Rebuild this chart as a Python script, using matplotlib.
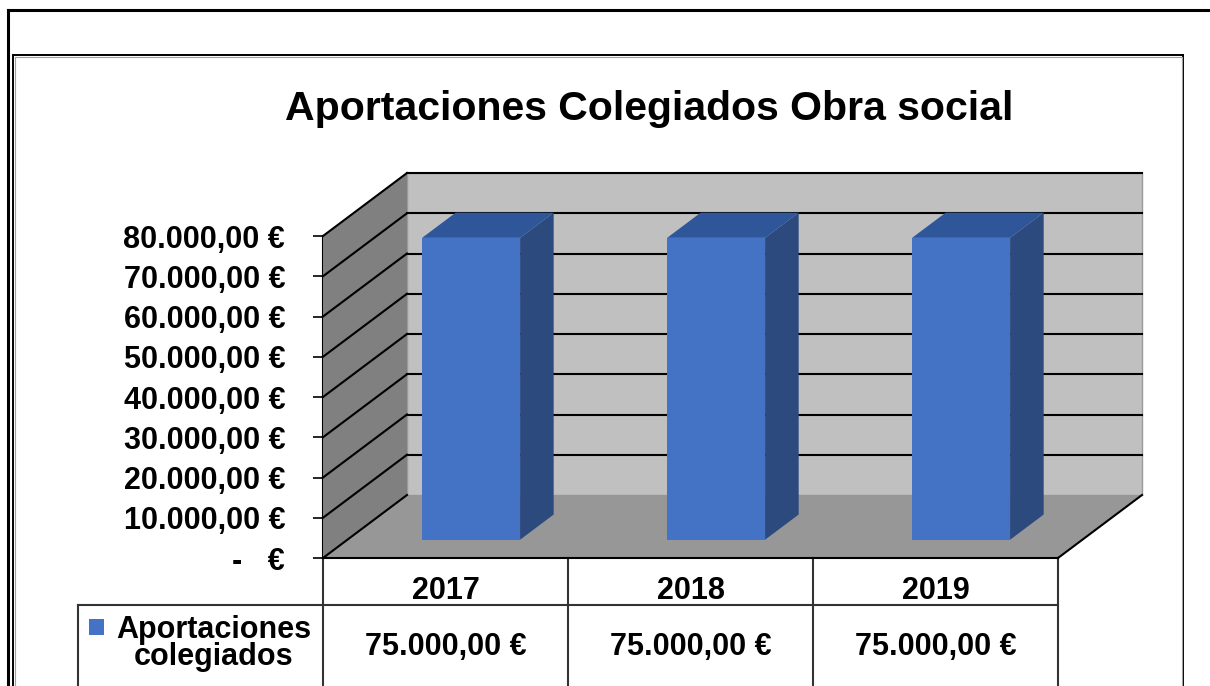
import matplotlib.pyplot as plt
from matplotlib.patches import Polygon, Rectangle
from matplotlib.lines import Line2D
from matplotlib.transforms import IdentityTransform
from matplotlib.ticker import FuncFormatter
import numpy as np

plt.rcParams['font.family'] = ['Liberation Sans', 'DejaVu Sans']
plt.rcParams['font.weight'] = 'bold'

# data
title = "Aportaciones Colegiados Obra social"
years = ["2017", "2018", "2019"]
aportaciones = [75000, 75000, 75000]
serie = ["Aportaciones", "colegiados"]
y_max = 80000
y_step = 10000

# colours
back_wall = "#c0c0c0"
side_wall = "#808080"
floor_col = "#979797"
bar_front = "#4472c4"
bar_side = "#2c4a7e"
bar_top = "#30569a"

W, H = 1210, 686
fig = plt.figure(figsize=(W / 100, H / 100), dpi=100)


def fx(px):
    return px / W


def fy(py):
    return 1 - py / H


def euro(v, pos=None):
    if v == 0:
        return "-   €"
    s = f"{v:,.2f}".replace(",", "X").replace(".", ",").replace("X", ".")
    return s + " €"


# axes = front plane of the 3d box
ax = fig.add_axes([fx(323), fy(558), fx(1058) - fx(323), fy(236) - fy(558)])
ax.set_xlim(0, len(years))
ax.set_ylim(0, y_max)
ax.patch.set_visible(False)
for s in ["top", "right", "bottom"]:
    ax.spines[s].set_visible(False)
ax.spines["left"].set_linewidth(1.5)
ax.spines["left"].set_zorder(6)
ax.set_xticks([])
ax.set_yticks(np.arange(0, y_max + 1, y_step))
ax.yaxis.set_major_formatter(FuncFormatter(euro))
ax.tick_params(axis="y", length=7.2, width=1.2, pad=20, labelsize=22, direction="out")

# depth offset in pixels (from front plane to back wall)
DX, DY = 84, 63
ident = IdentityTransform()


def proj(x, y, d):
    px, py = ax.transData.transform((x, y))
    return (px + DX * d, py + DY * d)


def face(pts, color, z, ec="none", lw=0):
    fig.add_artist(Polygon([proj(*p) for p in pts], closed=True, transform=ident,
                           facecolor=color, edgecolor=ec, linewidth=lw, zorder=z))


def line(p1, p2, color="black", lw=1.5, z=3):
    a, b = proj(*p1), proj(*p2)
    fig.add_artist(Line2D([a[0], b[0]], [a[1], b[1]], transform=ident,
                          color=color, linewidth=lw, zorder=z))


n = len(years)
# walls and floor
face([(0, 0, 1), (n, 0, 1), (n, y_max, 1), (0, y_max, 1)], back_wall, 1, ec="#9a9a9a", lw=1)
face([(0, 0, 0), (0, y_max, 0), (0, y_max, 1), (0, 0, 1)], side_wall, 1)
face([(0, 0, 0), (n, 0, 0), (n, 0, 1), (0, 0, 1)], floor_col, 1)

# gridlines
for v in range(0, y_max + 1, y_step):
    line((0, v, 0), (0, v, 1))
    if v > 0:
        line((0, v, 1), (n, v, 1))
line((0, 0, 0), (n, 0, 0))
line((n, 0, 0), (n, 0, 1))

# bars
bw = 0.4
d0, d1 = 0.29, 0.69
for i, v in enumerate(aportaciones):
    x0 = i + 0.5 - bw / 2 + 0.005
    x1 = x0 + bw
    face([(x1, 0, d0), (x1, v, d0), (x1, v, d1), (x1, 0, d1)], bar_side, 4)
    face([(x0, v, d0), (x1, v, d0), (x1, v, d1), (x0, v, d1)], bar_top, 4)
    face([(x0, 0, d0), (x1, 0, d0), (x1, v, d0), (x0, v, d0)], bar_front, 5)

# data table
tbl_col = "#333333"
y_top = proj(0, 0, 0)[1]
y_mid = H - 605
for i in range(n + 1):
    xx = proj(i, 0, 0)[0]
    fig.add_artist(Line2D([xx, xx], [0, y_top], transform=ident, color=tbl_col, lw=1.5))
x_left = 78
x_right = proj(n, 0, 0)[0]
fig.add_artist(Line2D([x_left, x_right], [y_mid, y_mid], transform=ident, color=tbl_col, lw=1.5))
fig.add_artist(Line2D([x_left, x_left], [0, y_mid], transform=ident, color=tbl_col, lw=1.5))
for i, (yr, v) in enumerate(zip(years, aportaciones)):
    xc = proj(i + 0.5, 0, 0)[0]
    fig.text(xc / W, fy(599), yr, ha="center", va="baseline", fontsize=22)
    fig.text(xc / W, fy(655), euro(v), ha="center", va="baseline", fontsize=22)

# legend key in the table
fig.add_artist(Rectangle((fx(89), fy(635)), fx(104) - fx(89), fy(619) - fy(635),
                         transform=fig.transFigure, facecolor=bar_front, edgecolor="none"))
fig.text(fx(214), fy(638), serie[0], ha="center", va="baseline", fontsize=22)
fig.text(fx(214), fy(665), serie[1], ha="center", va="baseline", fontsize=22)

# title
fig.text(fx(649), fy(120), title, ha="center", va="baseline", fontsize=29.5)

# borders
fig.add_artist(Line2D([fx(8), 1.0], [fy(10), fy(10)], color="black", lw=2.2))
fig.add_artist(Line2D([fx(8), fx(8)], [fy(10), 0], color="black", lw=2.2))
fig.add_artist(Line2D([fx(13), fx(1183)], [fy(55), fy(55)], color="black", lw=1.4))
fig.add_artist(Line2D([fx(13), fx(13)], [fy(55), 0], color="black", lw=1.4))
fig.add_artist(Line2D([fx(1183), fx(1183)], [fy(55), 0], color="black", lw=1.4))
fig.add_artist(Line2D([fx(14.5), fx(1181.5)], [fy(56.5), fy(56.5)], color="#a0a0a0", lw=0.8))
fig.add_artist(Line2D([fx(14.5), fx(14.5)], [fy(56.5), 0], color="#a0a0a0", lw=0.8))
fig.add_artist(Line2D([fx(1181.5), fx(1181.5)], [fy(56.5), 0], color="#a0a0a0", lw=0.8))

fig.savefig("out.png", dpi=100)
